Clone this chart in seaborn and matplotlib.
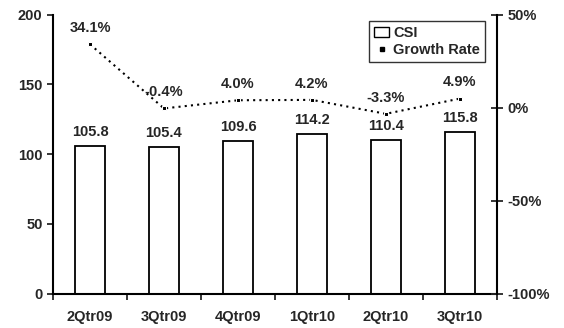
import matplotlib
matplotlib.use("Agg")
import matplotlib.pyplot as plt
import seaborn as sns
import pandas as pd
import numpy as np
from matplotlib.lines import Line2D
from matplotlib.patches import Patch

sns.set_style("white")
plt.rcParams['font.family'] = ['Liberation Sans', 'DejaVu Sans']
plt.rcParams['font.weight'] = 'bold'

# chart data
quarters = ["2Qtr09", "3Qtr09", "4Qtr09", "1Qtr10", "2Qtr10", "3Qtr10"]
csi = [105.8, 105.4, 109.6, 114.2, 110.4, 115.8]
growth = [34.1, -0.4, 4.0, 4.2, -3.3, 4.9]

df = pd.DataFrame({"Quarter": quarters, "CSI": csi, "Growth": growth})

fs = 10.5
fig, ax = plt.subplots(figsize=(5.64, 3.28), dpi=100)
fig.subplots_adjust(left=0.094, right=0.881, top=0.955, bottom=0.105)

sns.barplot(data=df, x="Quarter", y="CSI", ax=ax, width=0.4,
            facecolor="white", edgecolor="black", linewidth=1.3)
ax.set_ylim(0, 200)
ax.set_yticks([0, 50, 100, 150, 200])
ax.set_xlim(-0.5, 5.5)
ax.set_xlabel("")
ax.set_ylabel("")
for i, v in enumerate(csi):
    ax.text(i, v + 5, f"{v:.1f}", ha="center", va="bottom", fontsize=fs)

# tick marks between categories
ax.set_xticks(np.arange(-0.5, 6.0, 1.0), minor=True)
ax.tick_params(axis="x", which="major", length=0, labelsize=fs, pad=12)
ax.tick_params(axis="x", which="minor", length=4, width=1.3, direction="out", bottom=True)
ax.tick_params(axis="y", length=4, width=1.3, direction="out", left=True, labelsize=fs)
for s in ["left", "bottom"]:
    ax.spines[s].set_linewidth(1.5)
    ax.spines[s].set_color("black")
ax.spines["top"].set_visible(False)
ax.spines["right"].set_visible(False)

ax2 = ax.twinx()
sns.lineplot(x=np.arange(len(quarters)), y=growth, ax=ax2, color="black",
             linestyle=(0, (1, 2)), linewidth=1.5, marker="s", markersize=3)
ax2.set_ylim(-100, 50)
ax2.set_yticks([-100, -50, 0, 50])
ax2.set_yticklabels(["-100%", "-50%", "0%", "50%"])
ax2.tick_params(axis="y", length=8, width=1.3, direction="inout", right=True, labelsize=fs)
ax2.spines["right"].set_linewidth(1.5)
ax2.spines["right"].set_color("black")
for s in ["top", "left", "bottom"]:
    ax2.spines[s].set_visible(False)
for i, g in enumerate(growth):
    ax2.text(i, g + 5, f"{g:.1f}%", ha="center", va="bottom", fontsize=fs)

handles = [Patch(facecolor="white", edgecolor="black", label="CSI"),
           Line2D([], [], color="black", marker="s", markersize=2.5, linestyle="none",
                  label="Growth Rate")]
leg = ax2.legend(handles=handles, loc="upper right", bbox_to_anchor=(0.99, 1.005),
                 frameon=True, fancybox=False, fontsize=fs, handlelength=1.0,
                 handletextpad=0.3, borderpad=0.35, labelspacing=0.2)
leg.get_frame().set_edgecolor("black")
leg.get_frame().set_linewidth(1.0)

fig.savefig("out.png", dpi=100)
